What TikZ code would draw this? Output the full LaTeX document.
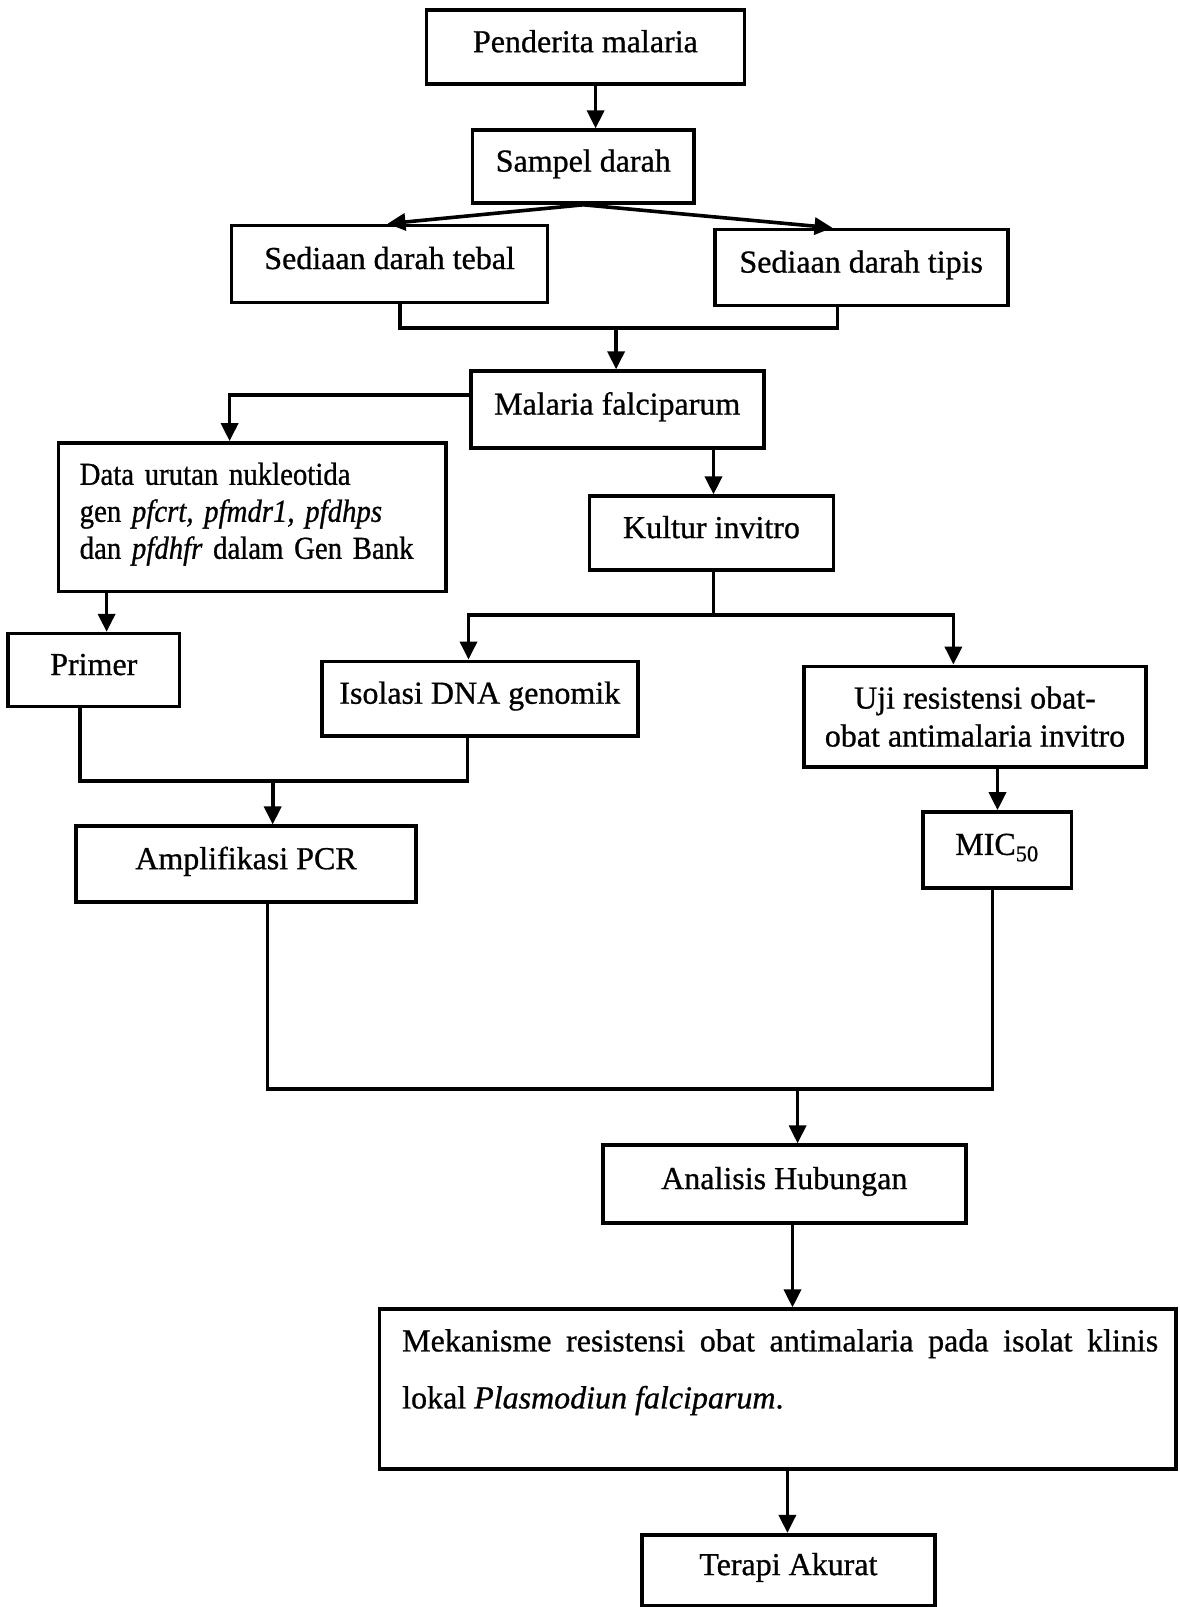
\documentclass[tikz,border=0pt]{standalone}
\usepackage{fontspec}
\setmainfont[FakeBold=0.8]{Liberation Serif}
\newfontfamily\condensedfont[FakeBold=0.8,FakeStretch=0.9]{Liberation Serif}
\usetikzlibrary{arrows.meta}
\begin{document}
\begin{tikzpicture}[x=1pt,y=-1pt,
  box/.style={draw, line width=3.6pt, rectangle, inner sep=0pt, font=\fontsize{32}{38}\selectfont},
  one/.style={text height=24pt, text depth=14pt},
  arr/.style={line width=3.6pt, line join=miter, -{Triangle[length=18pt,width=17pt]}},
  ln/.style={line width=3.6pt, line join=miter}]
\useasboundingbox (0,0) rectangle (1179,1607);

\node[box,one,minimum width=318pt,minimum height=74pt] (pend) at (585.4,47.2) {Penderita malaria};
\node[box,one,minimum width=221.5pt,minimum height=72.8pt] (samp) at (583.3,166.6) {Sampel darah};
\node[box,one,minimum width=316pt,minimum height=77pt] (tebal) at (389.6,264) {Sediaan darah tebal};
\node[box,one,minimum width=293pt,minimum height=76pt] (tipis) at (861.2,267.6) {Sediaan darah tipis};
\node[box,one,minimum width=293pt,minimum height=77pt] (mf) at (617.2,409.6) {Malaria falciparum};
\node[box,minimum width=387.6pt,minimum height=148.6pt,text width=345pt,align=left,
  font=\condensedfont\fontsize{32}{37}\selectfont] (data) at (252.2,517.2)
  {Data urutan nukleotida\\gen \textit{pfcrt, pfmdr1, pfdhps}\\dan \textit{pfdhfr} dalam Gen Bank\\[-24pt]\mbox{}};
\node[box,one,minimum width=244pt,minimum height=73.8pt] (kultur) at (711.5,533.1) {Kultur invitro};
\node[box,one,minimum width=171.2pt,minimum height=72.8pt] (primer) at (93.8,670) {Primer};
\node[box,one,minimum width=315.8pt,minimum height=74.8pt] (iso) at (479.8,698.7) {Isolasi DNA genomik};
\node[box,minimum width=342.4pt,minimum height=100.5pt,align=center] (uji) at (975,716.6)
  {Uji resistensi obat-\\obat antimalaria invitro};
\node[box,one,minimum width=340.3pt,minimum height=75.9pt] (amp) at (246,864.2) {Amplifikasi PCR};
\node[box,one,minimum width=148.6pt,minimum height=75.9pt] (mic) at (997,849.9) {MIC\textsubscript{50}};
\node[box,one,minimum width=362.9pt,minimum height=77.9pt] (ana) at (784.3,1184.1) {Analisis Hubungan};
\node[box,minimum width=796.6pt,minimum height=160pt] (mek) at (777.6,1389.2) {};
\node[font=\fontsize{32}{57}\selectfont,text width=756pt,align=justify,anchor=north west,inner sep=0pt] (mektxt) at (402,1329)
  {Mekanisme resistensi obat antimalaria pada isolat klinis lokal \textit{Plasmodiun falciparum}.};
\node[box,one,minimum width=293.2pt,minimum height=70.8pt] (ter) at (788.4,1570.1) {Terapi Akurat};

% connectors
\coordinate (c1) at (595.6,0);
\draw[arr] (pend.south -| c1) -- (samp.north -| c1);
\coordinate (c2) at (387.5,0);
\coordinate (c3) at (832.5,0);
\draw[arr] (samp.south) -- (tebal.north -| c2);
\draw[arr] (samp.south) -- (tipis.north -| c3);

\coordinate (m1) at (399.8,328.1);
\coordinate (m2) at (837.6,328.1);
\coordinate (m3) at (616.1,328.1);
\draw[ln] (tebal.south -| m1) -- (m1) -- (m2) -- (tipis.south -| m2);
\draw[arr] (m3) -- (mf.north -| m3);

\coordinate (l1) at (229.6,394.7);
\draw[arr] (mf.west |- l1) -- (l1) -- (data.north -| l1);

\coordinate (k1) at (713.5,0);
\draw[arr] (mf.south -| k1) -- (kultur.north -| k1);

\coordinate (s0) at (713.5,615.1);
\coordinate (s1) at (468.5,615.1);
\coordinate (s2) at (953.4,615.1);
\draw[ln] (kultur.south -| s0) -- (s0);
\draw[arr] (s0) -- (s1) -- (iso.north -| s1);
\draw[arr] (s0) -- (s2) -- (uji.north -| s2);

\coordinate (p1) at (106.6,0);
\draw[arr] (data.south -| p1) -- (primer.north -| p1);

\coordinate (q1) at (80,781.2);
\coordinate (q2) at (467.5,781.2);
\coordinate (q3) at (272.7,781.2);
\draw[ln] (primer.south -| q1) -- (q1) -- (q2) -- (iso.south -| q2);
\draw[arr] (q3) -- (amp.north -| q3);

\coordinate (u1) at (997.5,0);
\draw[arr] (uji.south -| u1) -- (mic.north -| u1);

\coordinate (r1) at (267.6,1088.8);
\coordinate (r2) at (992.4,1088.8);
\coordinate (r3) at (797.6,1088.8);
\draw[ln] (amp.south -| r1) -- (r1) -- (r2) -- (mic.south -| r2);
\draw[arr] (r3) -- (ana.north -| r3);

\coordinate (a1) at (792.5,0);
\draw[arr] (ana.south -| a1) -- (mek.north -| a1);
\coordinate (t1) at (787.4,0);
\draw[arr] (mek.south -| t1) -- (ter.north -| t1);
\end{tikzpicture}
\end{document}
